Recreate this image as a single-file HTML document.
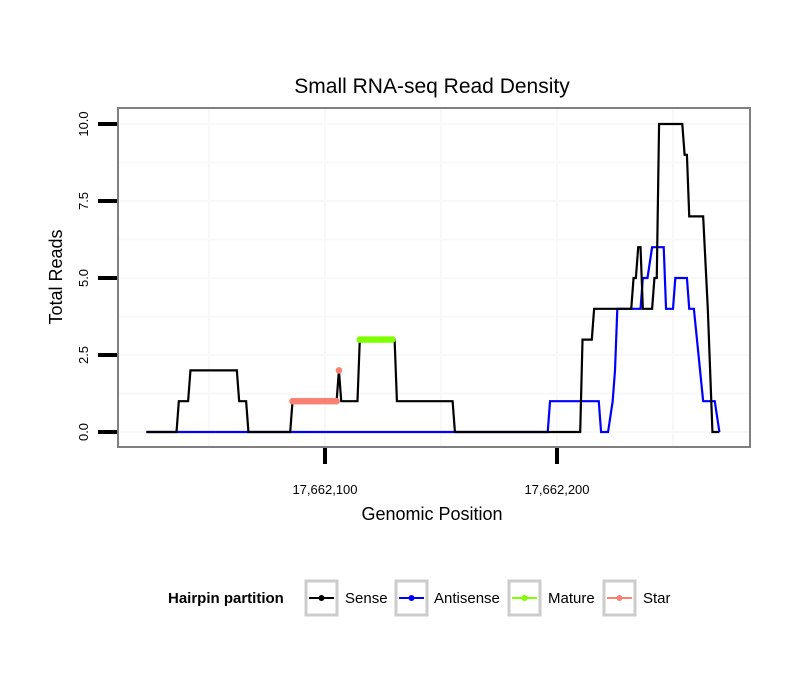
<!DOCTYPE html>
<html><head><meta charset="utf-8"><style>
body{margin:0;background:#fff;}
svg{display:block;font-family:"Liberation Sans",sans-serif;}
</style></head><body>
<svg id="chart" width="810" height="690" viewBox="0 0 810 690" xmlns="http://www.w3.org/2000/svg">
<rect width="810" height="690" fill="#fff"/>
<text x="432" y="93" font-size="21" text-anchor="middle">Small RNA-seq Read Density</text>
<g id="grid"></g>
<g id="series"></g>
<rect x="118" y="108" width="632" height="339" fill="none" stroke="#7f7f7f" stroke-width="2"/>
<g id="axes"></g>
<text x="432" y="520" font-size="18" text-anchor="middle">Genomic Position</text>
<text transform="translate(62,277) rotate(-90)" font-size="18" text-anchor="middle">Total Reads</text>
<g font-size="15">
<text x="168" y="603" font-weight="bold">Hairpin partition</text>
<g><rect x="306" y="581" width="31" height="34" fill="#fff" stroke="#cccccc" stroke-width="3"/><line x1="309" y1="598" x2="334" y2="598" stroke="#000" stroke-width="2"/><circle cx="321.5" cy="598" r="3" fill="#000"/><text x="345" y="603">Sense</text></g>
<g><rect x="396" y="581" width="31" height="34" fill="#fff" stroke="#cccccc" stroke-width="3"/><line x1="399" y1="598" x2="424" y2="598" stroke="#0000ff" stroke-width="2"/><circle cx="411.5" cy="598" r="3" fill="#0000ff"/><text x="434" y="603">Antisense</text></g>
<g><rect x="509" y="581" width="31" height="34" fill="#fff" stroke="#cccccc" stroke-width="3"/><line x1="512" y1="598" x2="537" y2="598" stroke="#7fff00" stroke-width="2"/><circle cx="524.5" cy="598" r="3" fill="#7fff00"/><text x="548" y="603">Mature</text></g>
<g><rect x="604" y="581" width="31" height="34" fill="#fff" stroke="#cccccc" stroke-width="3"/><line x1="607" y1="598" x2="632" y2="598" stroke="#fa8072" stroke-width="2"/><circle cx="619.5" cy="598" r="3" fill="#fa8072"/><text x="643" y="603">Star</text></g>
</g>
</svg>
<script>
const senseData = [[23,0],[36,0],[37,1],[41,1],[42,2],[62,2],[63,1],[66,1],[67,0],[85,0],[86,1],[105,1],[106,2],[107,1],[114,1],[115,3],[130,3],[131,1],[155,1],[156,0],[210,0],[211,3],[215,3],[216,4],[232,4],[233,5],[234,5],[235,6],[236,6],[237,4],[241,4],[242,5],[243,5],[244,10],[254,10],[255,9],[256,9],[257,7],[263,7],[265,4],[267,0],[270,0]];
const antisenseData = [[23,0],[196,0],[197,1],[218,1],[219,0],[222,0],[224,1],[225,2],[226,4],[236,4],[237,5],[239,5],[241,6],[246,6],[247,4],[250,4],[251,5],[256,5],[257,4],[259,4],[263,1],[268,1],[270,0]];
const matureStart = 115, matureEnd = 129, matureValue = 3;
const starStart = 86, starEnd = 105, starValue = 1;
const starExtra = [[106,2]];
const xTicks = [100,200];
const xTickLabels = ["17,662,100","17,662,200"];
const yTicks = [0,2.5,5,7.5,10];
const yTickLabels = ["0.0","2.5","5.0","7.5","10.0"];

const NS="http://www.w3.org/2000/svg";
const X = bp => 325 + (bp-100)*2.32;
const Y = v => 432 - v*30.8;
function mk(tag, attrs, parent){const e=document.createElementNS(NS,tag);for(const k in attrs)e.setAttribute(k,attrs[k]);parent.appendChild(e);return e;}
const grid=document.getElementById('grid'), series=document.getElementById('series'), axes=document.getElementById('axes');
for(let v=-1.25; v<=11.25; v+=1.25){const y=Y(v); if(y<109||y>446)continue;
  const l=mk('line',{x1:119,x2:749,y1:y,y2:y,stroke:'#f8f8f8','stroke-width':2},grid);
  
  }
for(let b=50;b<=300;b+=50){const x=X(b); if(x<119||x>749)continue;
  const l=mk('line',{x1:x,x2:x,y1:109,y2:446,stroke:'#f8f8f8','stroke-width':2},grid);
  
  }
function line(data,color,name){const p=mk('polyline',{points:data.map(d=>X(d[0])+','+Y(d[1])).join(' '),fill:'none',stroke:color,'stroke-width':2.2,'stroke-linejoin':'miter'},series);
  
  }
line(antisenseData,'#0000ff','antisense-line');
line(senseData,'#000000','sense-line');
function pts(list,color,name){list.forEach(d=>{const c=mk('circle',{cx:X(d[0]),cy:Y(d[1]),r:3.3,fill:color},series);
  
  });}
const mat=[];for(let b=matureStart;b<=matureEnd;b++)mat.push([b,matureValue]);
const star=[];for(let b=starStart;b<=starEnd;b++)star.push([b,starValue]);
pts(star.concat(starExtra),'#fa8072','star-point');
pts(mat,'#7fff00','mature-point');
yTicks.forEach((v,i)=>{const y=Y(v);
  const t=mk('line',{x1:98,x2:117,y1:y,y2:y,stroke:'#000','stroke-width':4},axes);
  
  
  const tx=mk('text',{transform:`translate(88,${y}) rotate(-90)`,'font-size':13,'text-anchor':'middle'},axes);
  tx.textContent=yTickLabels[i];
  
  });
xTicks.forEach((b,i)=>{const x=X(b);
  const t=mk('line',{x1:x,x2:x,y1:448,y2:464,stroke:'#000','stroke-width':4},axes);
  
  
  const tx=mk('text',{x:x,y:494,'font-size':13,'text-anchor':'middle'},axes);
  tx.textContent=xTickLabels[i];
  
  });
</script>
</body></html>
